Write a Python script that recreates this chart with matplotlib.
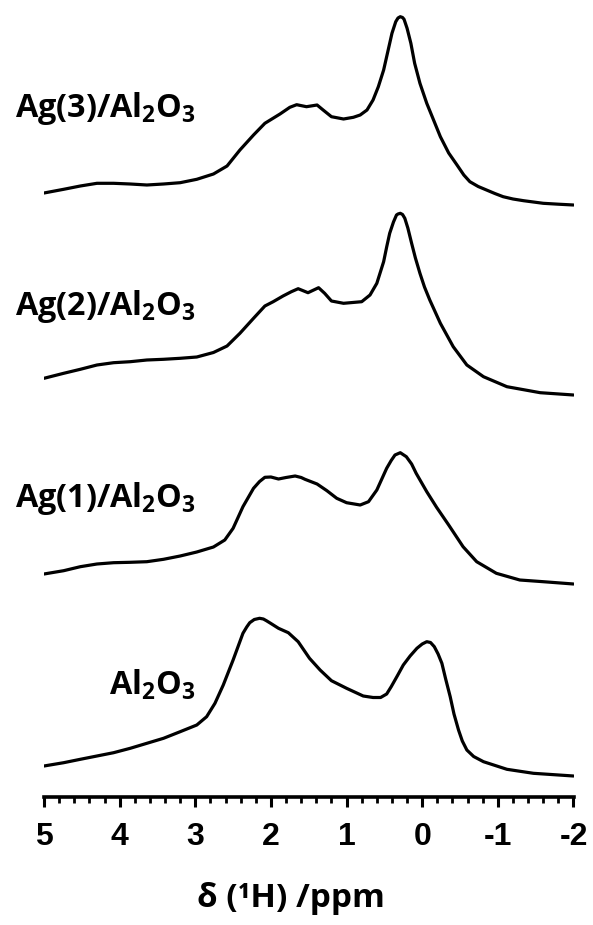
import numpy as np
import matplotlib
matplotlib.use("Agg")
import matplotlib.pyplot as plt

plt.rcParams['font.family'] = 'Liberation Sans'
plt.rcParams['font.weight'] = 'bold'
plt.rcParams['xtick.labelsize'] = 23
plt.rcParams['mathtext.fontset'] = 'custom'
plt.rcParams['mathtext.rm'] = 'Open Sans'
plt.rcParams['mathtext.bf'] = 'Open Sans:bold'
plt.rcParams['axes.unicode_minus'] = False

# spectra: shift (ppm) and intensity (a.u., 0 = right-hand baseline)
ag3_ppm = [5.0, 4.74, 4.52, 4.30, 4.08, 3.86, 3.64, 3.42, 3.20, 2.98, 2.76, 2.58, 2.41, 2.23, 2.08,
           1.88, 1.75, 1.66, 1.53, 1.39, 1.31, 1.20, 1.04, 0.91, 0.82, 0.73, 0.65, 0.58, 0.51, 0.45,
           0.40, 0.35, 0.32, 0.29, 0.26, 0.24, 0.20, 0.15, 0.10, 0.03, -0.06, -0.15, -0.24, -0.35,
           -0.46, -0.55, -0.63, -0.74, -0.85, -0.96, -1.07, -1.20, -1.34, -1.47, -1.60, -1.80, -2.0]
ag3_int = [12, 15.7, 19, 21.7, 21.7, 21, 20, 21, 22.3, 25.7, 31, 39, 55, 70, 81.7,
           91, 97.7, 100.3, 98.3, 100, 95, 88.3, 86, 87.7, 90, 95, 105, 118.3, 135, 155,
           171.7, 183.3, 187, 188.3, 187.5, 185.7, 176.7, 161.7, 141.7, 121.7, 101.7, 85, 68.3, 52,
           40, 30, 23.3, 18.5, 15, 11.5, 8.3, 6, 4.3, 3, 1.7, 0.8, 0]

ag2_ppm = [5.0, 4.74, 4.52, 4.30, 4.08, 3.86, 3.64, 3.42, 3.20, 2.98, 2.76, 2.58, 2.41, 2.23, 2.08,
           1.97, 1.84, 1.73, 1.64, 1.51, 1.37, 1.29, 1.20, 1.04, 0.80, 0.69, 0.60, 0.51, 0.47, 0.43,
           0.38, 0.34, 0.32, 0.29, 0.26, 0.23, 0.19, 0.14, 0.09, 0.03, -0.03, -0.10, -0.24, -0.41,
           -0.59, -0.81, -1.12, -1.56, -2.0]
ag2_int = [16.7, 21.7, 25.7, 30, 32.3, 33.3, 35, 35.7, 36.7, 38, 42.5, 49, 61.7, 76.7, 89,
           93.3, 99, 103.3, 106.3, 102.3, 107.3, 101.7, 94, 91.7, 93.3, 100, 111.7, 133.3, 148, 161.7,
           173, 180, 181, 181.7, 180.5, 176.7, 167, 151.7, 137, 121.7, 108, 95, 71.7, 48.3,
           30, 18.3, 8.3, 2.3, 0]

ag1_ppm = [5.0, 4.74, 4.52, 4.30, 4.08, 3.86, 3.64, 3.42, 3.20, 2.98, 2.76, 2.61, 2.50, 2.37, 2.23,
           2.15, 2.08, 2.00, 1.90, 1.80, 1.68, 1.60, 1.55, 1.39, 1.26, 1.13, 1.00, 0.82, 0.71, 0.60,
           0.47, 0.41, 0.36, 0.29, 0.21, 0.14, 0.08, -0.06, -0.19, -0.35, -0.54, -0.72, -0.98, -1.29,
           -1.60, -2.0]
ag1_int = [10, 13.3, 17.3, 20, 21.3, 21.7, 22.3, 24.7, 28, 32, 37, 44, 55.7, 77.3, 95.7,
           102.5, 106.7, 107, 105, 106.5, 108, 106.5, 104.7, 100, 93.3, 85.7, 81.3, 79, 82.3, 94,
           115.7, 123.5, 129, 131.3, 127.3, 120, 110.7, 92.3, 76.7, 59, 37.3, 22.3, 10.7, 4,
           2.3, 0]

al_ppm = [5.0, 4.74, 4.52, 4.30, 4.08, 3.86, 3.64, 3.42, 3.20, 2.98, 2.85, 2.74, 2.63, 2.50, 2.37,
          2.32, 2.28, 2.22, 2.15, 2.10, 2.06, 2.00, 1.90, 1.77, 1.64, 1.49, 1.35, 1.20, 1.00, 0.78,
          0.65, 0.55, 0.47, 0.41, 0.33, 0.25, 0.16, 0.07, 0.00, -0.06, -0.11, -0.16, -0.21, -0.26,
          -0.31, -0.37, -0.42, -0.48, -0.53, -0.59, -0.68, -0.81, -1.12, -1.47, -2.0]
al_int = [10, 13.3, 16.7, 20, 23.3, 27.7, 32.7, 37.7, 44.3, 51, 59.3, 72.7, 91, 116, 142.7,
          149, 153.3, 156.5, 157.7, 157, 155.3, 152.5, 147.7, 143.3, 134.3, 117.7, 106, 95.3, 87.7, 80,
          78.5, 78.5, 82, 89.3, 100, 111, 120, 127.7, 132, 134.3, 133.5, 129.3, 122, 112.7,
          97, 79.3, 62, 46, 35, 26, 19.5, 14.3, 6.7, 2.7, 0]

labels = [r'$\mathbf{Ag(3)/Al_2O_3}$', r'$\mathbf{Ag(2)/Al_2O_3}$',
          r'$\mathbf{Ag(1)/Al_2O_3}$', r'$\mathbf{Al_2O_3}$']
ticklabels = ['5', '4', '3', '2', '1', '0', '-1', '-2']
spectra = [(ag3_ppm, ag3_int), (ag2_ppm, ag2_int), (ag1_ppm, ag1_int), (al_ppm, al_int)]
offsets = [592, 402, 213, 21]       # vertical stacking
label_y = [680, 482, 290, 102]      # text baselines

fig = plt.figure(figsize=(5.93, 9.25), dpi=100)
ax = fig.add_axes([44 / 593, 128 / 925, 529.5 / 593, 797 / 925])

for (ppm, inten), off, lab, ly in zip(spectra, offsets, labels, label_y):
    ax.plot(ppm, np.array(inten) + off, color='black', lw=2.3,
            solid_joinstyle='round', solid_capstyle='round')
    ax.text(2.99, ly, lab, ha='right', va='baseline', fontsize=23.3)

ax.set_xlim(5, -2)
ax.set_ylim(0, 797)
for s in ['left', 'right', 'top']:
    ax.spines[s].set_visible(False)
ax.spines['bottom'].set_linewidth(2.6)
ax.set_yticks([])
ax.set_xticks(np.arange(5, -2.5, -1))
ax.set_xticklabels(ticklabels)
ax.set_xticks(np.arange(5, -2.1, -0.2), minor=True)
ax.tick_params(axis='x', which='major', direction='out', length=7, width=2.2, pad=11)
ax.tick_params(axis='x', which='minor', direction='out', length=4.5, width=2.0)

ax.set_xlabel('δ (¹H) /ppm', family=['Open Sans', 'DejaVu Sans'], fontweight='bold', fontsize=24, va='center')
ax.xaxis.set_label_coords(0.466, -0.127)

fig.savefig('out.png', dpi=100)
